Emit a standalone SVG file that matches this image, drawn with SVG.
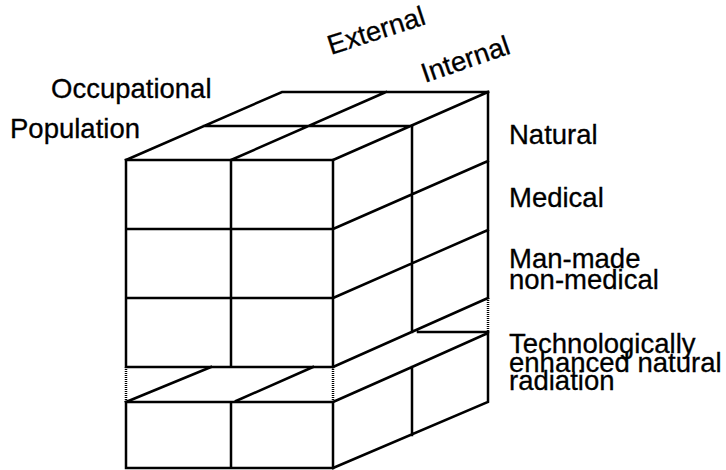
<svg xmlns="http://www.w3.org/2000/svg" width="726" height="470" viewBox="0 0 726 470">
<style>
.l{stroke:#000;stroke-width:2.5;fill:none;stroke-linecap:square}
.d{stroke:#000;stroke-width:2.5;fill:none;stroke-dasharray:1 1}
text{font-family:"Liberation Sans",Arial,sans-serif;font-size:27.5px;fill:#000;stroke:#000;stroke-width:0.3}
</style>
<rect width="726" height="470" fill="#fff"/>
<g id="upper-block">
<path class="l" d="M126,160 H333 V367 H126 Z M231,160 V367 M126,229 H333 M126,298 H333"/>
<path class="l" d="M126,160 L282,92 H488 M231,160 L386,92 M333,160 L488,92 M204,126 H412"/>
<path class="l" d="M412,126 V332 M488,92 V298 M333,229 L488,161 M333,298 L488,230 M333,367 L488,298 M418,332 H488"/>
<path class="d" d="M488,298 V332"/>
</g>
<g id="lower-block">
<path class="l" d="M126,402 H333 V468 H126 Z M231,402 V468"/>
<path class="l" d="M126,402 L211,367 M236,401 L313,367 M333,402 L412,367 L488,333 V402 L333,468 M412,367 V435"/>
<path class="d" d="M126,367 V402 M333,367 V402"/>
</g>
<g id="labels">
<text x="51" y="98">Occupational</text>
<text x="10" y="138">Population</text>
<text transform="translate(331,55) rotate(-18)">External</text>
<text transform="translate(425,83) rotate(-19)">Internal</text>
<text x="509" y="144">Natural</text>
<text x="509" y="207">Medical</text>
<text x="509" y="268">Man-made</text>
<text x="509" y="289">non-medical</text>
<text x="509" y="353">Technologically</text>
<text x="509" y="372">enhanced natural</text>
<text x="509" y="390">radiation</text>
</g>
</svg>
